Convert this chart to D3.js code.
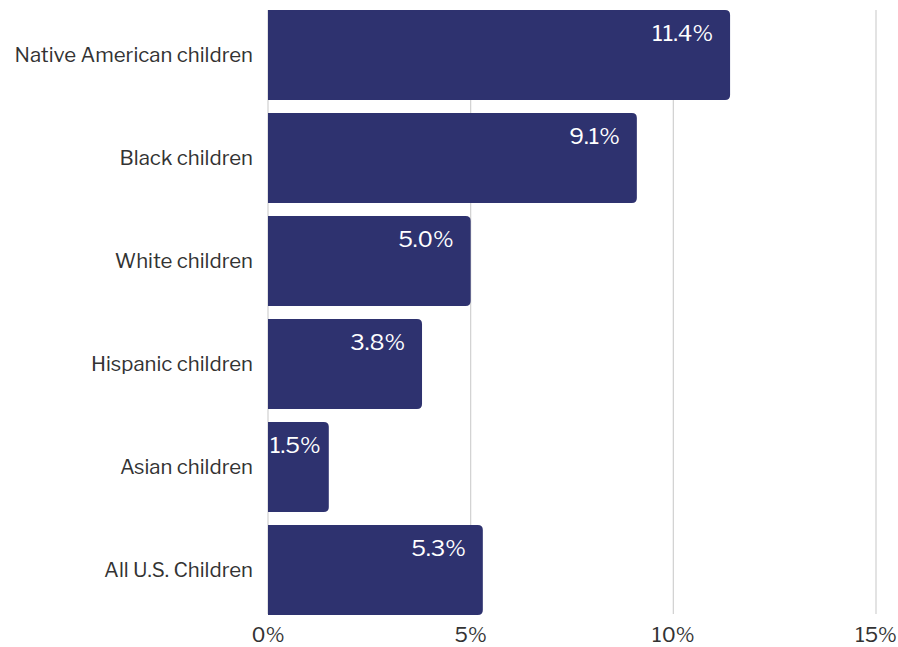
<!DOCTYPE html>
<html>
<head>
<meta charset="utf-8">
<script src="https://cdn.jsdelivr.net/npm/d3@7"></script>
<style>
  body { margin: 0; background: #fff; }
  svg { display: block; font-family: "Libre Franklin", Lato, sans-serif; }
</style>
</head>
<body>
<div id="chart"></div>
<script>
// chart data
var categories = ["Native American children", "Black children", "White children",
    "Hispanic children", "Asian children", "All U.S. Children"];
var values = [11.4, 9.1, 5.0, 3.8, 1.5, 5.3];
var xTicks = [0, 5, 10, 15];

var svgWidth = 898;
var svgHeight = 647;

var x0 = 268, x1 = 876;
var barColor = "#2e326f";

var svg = d3.select("#chart")
    .append("svg")
    .attr("width", svgWidth)
    .attr("height", svgHeight);

var xScale = d3.scaleLinear()
    .domain([0, 15])
    .range([x0, x1]);

var yScale = d3.scaleBand()
    .domain(categories)
    .range([3.5, 621.5])
    .paddingInner(0.126)
    .paddingOuter(0.063);

// gridlines
svg.append("g")
    .selectAll("line")
    .data(xTicks)
    .enter()
    .append("line")
    .attr("x1", d => xScale(d))
    .attr("x2", d => xScale(d))
    .attr("y1", 10)
    .attr("y2", 614)
    .attr("stroke", "#d0d0d0")
    .attr("stroke-width", 1.2);

// bar with rounded right corners
function barPath(d, i) {
    var xa = xScale(0), xb = xScale(d);
    var yt = yScale(categories[i]), h = yScale.bandwidth();
    var r = Math.min(5, (xb - xa) / 2);
    return `M${xa},${yt} H${xb - r} Q${xb},${yt} ${xb},${yt + r} V${yt + h - r} Q${xb},${yt + h} ${xb - r},${yt + h} H${xa} Z`;
}

svg.append("g")
    .selectAll("path")
    .data(values)
    .enter()
    .append("path")
    .attr("d", barPath)
    .attr("fill", barColor);

// value labels
var valLabels = svg.append("g")
    .selectAll("text")
    .data(values)
    .enter()
    .append("text")
    .attr("y", (d, i) => yScale(categories[i]) + 31.5)
    .attr("text-anchor", "end")
    .attr("font-size", 22.5)
    .attr("fill", "#ffffff")
    .text(d => d.toFixed(1) + "%");

valLabels.each(function (d) {
    var w = this.getComputedTextLength();
    var xe = Math.max(xScale(d) - 17, xScale(0) + 2 + w);
    d3.select(this).attr("x", xe);
});

// category labels
svg.append("g")
    .selectAll("text")
    .data(categories)
    .enter()
    .append("text")
    .attr("x", 253)
    .attr("y", d => yScale(d) + yScale.bandwidth() / 2)
    .attr("dy", "0.35em")
    .attr("text-anchor", "end")
    .attr("font-size", 20.4)
    .attr("fill", "#333333")
    .text(d => d);

// x axis tick labels
svg.append("g")
    .selectAll("text")
    .data(xTicks)
    .enter()
    .append("text")
    .attr("x", d => xScale(d))
    .attr("y", 642)
    .attr("text-anchor", "middle")
    .attr("font-size", 20.5)
    .attr("fill", "#333333")
    .text(d => d + "%");
</script>
</body>
</html>
